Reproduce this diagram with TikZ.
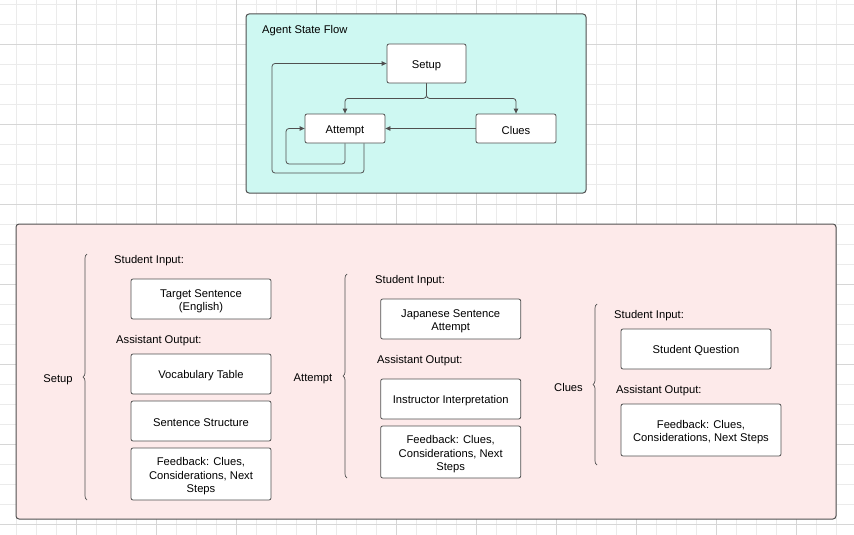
\documentclass[tikz,border=0pt]{standalone}
\usepackage{fontspec}
\setmainfont{Liberation Sans}
\usepackage{tikz}
\definecolor{gray700}{HTML}{505050}
\definecolor{cyan50}{HTML}{CEF8F2}
\definecolor{red50}{HTML}{FDEAEA}
\definecolor{grid100}{HTML}{EBEBEB}
\definecolor{grid200}{HTML}{D6D6D6}
\usetikzlibrary{arrows.meta,decorations.pathreplacing}
\newcommand{\alto}{\rule{0pt}{12.5pt}}
\tikzstyle{caixa}=[draw=gray700, fill=white, rounded corners=2pt, line width=0.8pt, align=center, minimum width=140pt, minimum height=40pt, inner sep=2pt]
\tikzstyle{estado}=[caixa, minimum width=80pt, minimum height=29pt]
\tikzstyle{rotulo}=[anchor=west, inner sep=0pt]
\tikzstyle{quadro}=[draw=gray700, rounded corners=3pt, line width=1pt]
\tikzstyle{seta}=[draw=gray700, line width=0.8pt, rounded corners=3pt, -{Triangle[length=5pt,width=4.5pt]}]
\tikzstyle{chave}=[draw=gray700, line width=0.7pt, decorate, decoration={brace, amplitude=4pt}]

\begin{document}
\begin{tikzpicture}[x=1pt, y=-1pt, font=\fontsize{11.2}{13.5}\selectfont, every node/.style={execute at begin node={\rule{0pt}{12pt}}}]
			\useasboundingbox (0,0) rectangle (854,535);
			\fill[white] (0,0) rectangle (854,535);
			\foreach \x in {0,...,41} \draw[grid100, line width=0.6pt] ({16.7+20*\x},0) -- ({16.7+20*\x},535);
			\foreach \y in {0,...,26} \draw[grid100, line width=0.6pt] (0,{4.3+20*\y}) -- (854,{4.3+20*\y});
			\foreach \x in {0,...,9} \draw[grid200, line width=0.6pt] ({76.7+80*\x},0) -- ({76.7+80*\x},535);
			\foreach \y in {0,...,6} \draw[grid200, line width=0.6pt] (0,{44.3+80*\y}) -- (854,{44.3+80*\y});

			\draw[quadro, fill=cyan50] (246,14) rectangle (586,193);
			\node[rotulo] (titulo) at (262,29) {Agent State Flow};
			\node[estado, minimum width=79pt, minimum height=39pt] (setup) at (426.5,63.5) {Setup};
			\node[estado] (attempt) at (345,128.5) {Attempt};
			\node[estado] (clues) at (516,128.5) {Clues};
			\coordinate (laco1) at (286,164);
			\coordinate (laco2) at (272,173);
			\path[seta] (setup.south) -- ++(0,15) -| (attempt.north);
			\path[seta] (setup.south) -- ++(0,15) -| (clues.north);
			\path[seta] (clues.west) -- (attempt.east);
			\path[seta] (attempt.south) |- (laco1) |- (attempt.west);
			\path[seta] ([xshift=19pt]attempt.south) |- (laco2) |- (setup.west);

			\draw[quadro, fill=red50] (16,224) rectangle (836,519);
			\node (t1) at (58,378) {Setup};
			\draw[chave] (87,500) -- (87,254);
			\node[rotulo] (e1) at (114,259) {Student Input:};
			\node[caixa] (c11) at (201,299) {\alto Target Sentence\\(English)};
			\node[rotulo] (s1) at (116,339) {Assistant Output:};
			\node[caixa] (c12) at (201,374) {Vocabulary Table};
			\node[caixa] (c13) at (201,421) {Sentence Structure};
			\node[caixa, minimum height=52pt] (c14) at (201,474) {\alto Feedback: Clues,\\Considerations, Next\\Steps};

			\node (t2) at (313,377) {Attempt};
			\draw[chave] (347,478) -- (347,274);
			\node[rotulo] (e2) at (375,279) {Student Input:};
			\node[caixa] (c21) at (450.7,319) {\alto Japanese Sentence\\Attempt};
			\node[rotulo] (s2) at (377,359) {Assistant Output:};
			\node[caixa] (c22) at (450.7,399) {Instructor Interpretation};
			\node[caixa, minimum height=52pt] (c23) at (450.7,452) {\alto Feedback: Clues,\\Considerations, Next\\Steps};

			\node (t3) at (568.5,385.5) {Clues};
			\draw[chave] (597,465) -- (597,304);
			\node[rotulo] (e3) at (614,314) {Student Input:};
			\node[caixa, minimum width=150pt] (c31) at (696,349) {Student Question};
			\node[rotulo] (s3) at (616,389) {Assistant Output:};
			\node[caixa, minimum width=160pt, minimum height=52pt] (c32) at (701,430) {\alto Feedback: Clues,\\Considerations, Next Steps};
		\end{tikzpicture}
\end{document}
